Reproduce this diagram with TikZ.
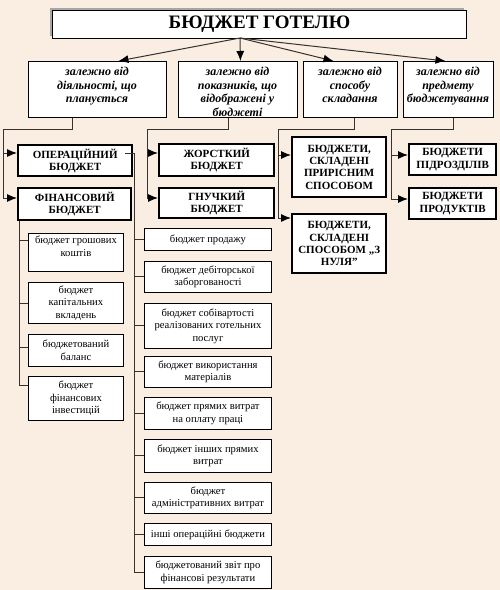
\documentclass[tikz,border=0pt]{standalone}
\usepackage{fontspec}
\setmainfont{Liberation Serif}
\usetikzlibrary{arrows.meta}
\definecolor{bg}{RGB}{250,238,227}
\definecolor{ln}{RGB}{55,50,45}
\newcommand\mybox[7]{\node[#2, anchor=north west, minimum width={#5-#3}, minimum height={#6-#4}] (#1) at (#3,#4) {#7};}
\begin{document}
\begin{tikzpicture}[x=1pt,y=-1pt,
  box/.style={draw, fill=white, line width=0.9pt, inner sep=0pt, align=center},
  catbox/.style={box},
  heavybox/.style={box, line width=2.4pt, font=\fontsize{11}{12.4}\selectfont\bfseries},
  itembox/.style={box, font=\fontsize{10.6}{12.6}\selectfont},
  cattext/.style={anchor=north, inner sep=0pt, align=center, font=\fontsize{12}{13.6}\selectfont\bfseries\itshape},
  conn/.style={draw=ln, line width=1pt},
  arr/.style={conn, -{Latex[length=10pt,width=8pt,color=black]}}]
\fill[bg] (0,0) rectangle (500,590);
\useasboundingbox (0,0) rectangle (500,590);

% title
\fill[gray!70] (50,8) rectangle (464,36);
\mybox{title}{box, line width=1pt}{52}{10}{466}{38}{\fontsize{19}{22}\selectfont\bfseries БЮДЖЕТ ГОТЕЛЮ}
\coordinate (ts) at (240,38);

% category boxes
\mybox{catA}{catbox}{28}{61}{166}{117}{}
\mybox{catB}{catbox}{178}{61}{297}{117}{}
\mybox{catC}{catbox}{303}{61}{397}{117}{}
\mybox{catD}{catbox}{403}{61}{493}{117}{}
\node[cattext] (tA) at (97,67) {залежно від\\діяльності, що\\планується};
\node[cattext] (tB) at (237.5,67) {залежно від\\показників, що\\відображені у\\бюджеті};
\node[cattext] (tC) at (350,67) {залежно від\\способу\\складання};
\node[cattext] (tD) at (448,67) {залежно від\\предмету\\бюджетування};

\draw[arr] (ts) -- ([xshift=21pt]catA.north);
\draw[arr] (ts) -- ([xshift=2.5pt]catB.north);
\draw[arr] (ts) -- ([xshift=-17pt]catC.north);
\draw[arr] (ts) -- ([xshift=-3pt]catD.north);

% heavy boxes
\mybox{op}{heavybox}{17}{144}{131}{175}{ОПЕРАЦІЙНИЙ\\БЮДЖЕТ}
\mybox{fin}{heavybox}{17}{187}{130}{219}{ФІНАНСОВИЙ\\БЮДЖЕТ}
\mybox{hard}{heavybox}{158}{143}{273}{175}{ЖОРСТКИЙ\\БЮДЖЕТ}
\mybox{flex}{heavybox}{158}{187}{273}{217}{ГНУЧКИЙ\\БЮДЖЕТ}
\mybox{incr}{heavybox}{291}{136}{385}{196}{БЮДЖЕТИ,\\СКЛАДЕНІ\\ПРИРІСНИМ\\СПОСОБОМ}
\mybox{zero}{heavybox}{291}{213}{385}{272}{БЮДЖЕТИ,\\СКЛАДЕНІ\\СПОСОБОМ „З\\НУЛЯ”}
\mybox{dept}{heavybox}{408}{143}{495}{174}{БЮДЖЕТИ\\ПІДРОЗДІЛІВ}
\mybox{prod}{heavybox}{408}{187}{495}{218}{БЮДЖЕТИ\\ПРОДУКТІВ}

% connectors from categories
\draw[conn] ([xshift=-25pt]catA.south) |- (3,129) -- (3,198);
\draw[arr] (3,153) -- (3,153 -| op.west);
\draw[arr] (3,198) -- (3,198 -| fin.west);
\draw[conn] ([xshift=-9.5pt]catB.south) |- (147,129) -- (147,198);
\draw[arr] (147,153) -- (147,153 -| hard.west);
\draw[arr] (147,198) -- (147,198 -| flex.west);
\draw[conn] ([xshift=4pt]catC.south) |- (278,129) -- (278,218);
\draw[arr] (278,155) -- (278,155 -| incr.west);
\draw[arr] (278,218) -- (278,218 -| zero.west);
\draw[conn] ([xshift=5pt]catD.south) |- (391,129) -- (391,199);
\draw[arr] (391,155) -- (391,155 -| dept.west);
\draw[arr] (391,199) -- (391,199 -| prod.west);

% financial items
\mybox{f1}{itembox}{28}{233}{123}{271}{бюджет грошових\\коштів\\\mbox{}}
\mybox{f2}{itembox}{28}{282}{123}{323}{бюджет\\капітальних\\вкладень}
\mybox{f3}{itembox}{28}{334}{123}{366}{бюджетований\\баланс}
\mybox{f4}{itembox}{28}{376}{123}{420}{бюджет\\фінансових\\інвестицій}
\draw[conn] (fin.south -| 19,0) -- (19,385);
\draw[conn] (19,240) -- (19,240 -| f1.west);
\draw[conn] (19,303) -- (19,303 -| f2.west);
\draw[conn] (19,347) -- (19,347 -| f3.west);
\draw[conn] (19,385) -- (19,385 -| f4.west);

% operational items
\mybox{m1}{itembox}{144}{228}{271}{250}{бюджет продажу}
\mybox{m2}{itembox}{144}{261}{271}{292}{бюджет дебіторської\\заборгованості}
\mybox{m3}{itembox}{144}{303}{271}{348}{бюджет собівартості\\реалізованих готельних\\послуг}
\mybox{m4}{itembox}{144}{356}{271}{387}{бюджет використання\\матеріалів}
\mybox{m5}{itembox}{144}{397}{271}{429}{бюджет прямих витрат\\на оплату праці}
\mybox{m6}{itembox}{144}{439}{271}{472}{бюджет інших прямих\\витрат}
\mybox{m7}{itembox}{144}{482}{271}{513}{бюджет\\адміністративних витрат}
\mybox{m8}{itembox}{144}{523}{271}{545}{інші операційні бюджети}
\mybox{m9}{itembox}{144}{556}{271}{588}{бюджетований звіт про\\фінансові результати}
\draw[conn] ([xshift=-8pt]op.east |- 0,153) -- (134,153) -- (m9.west -| 134,0);
\foreach \m in {m1,m2,m3,m4,m5,m6,m7,m8,m9}
  \draw[conn] (\m.west -| 134,0) -- (\m.west);
\end{tikzpicture}
\end{document}
